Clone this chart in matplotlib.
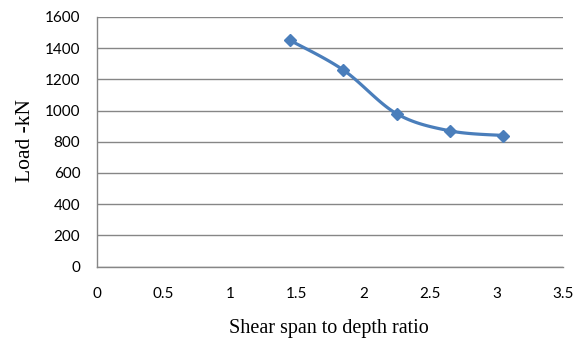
import numpy as np
import matplotlib
matplotlib.use("Agg")
import matplotlib.pyplot as plt

ratio = [1.45, 1.85, 2.25, 2.65, 3.05]
load = [1450, 1260, 980, 870, 840]
x_ticks = [0, 0.5, 1, 1.5, 2, 2.5, 3, 3.5]
x_tick_labels = ["0", "0.5", "1", "1.5", "2", "2.5", "3", "3.5"]
y_ticks = [0, 200, 400, 600, 800, 1000, 1200, 1400, 1600]


def smooth(xs, ys, n=30):
    xs = np.asarray(xs, float)
    ys = np.asarray(ys, float)
    px = np.concatenate([[xs[0]], xs, [xs[-1]]])
    py = np.concatenate([[ys[0]], ys, [ys[-1]]])
    outx, outy = [], []
    t = np.linspace(0, 1, n)
    for i in range(1, len(px) - 2):
        p0 = np.array([px[i], py[i]])
        p3 = np.array([px[i + 1], py[i + 1]])
        c1 = p0 + (np.array([px[i + 1], py[i + 1]]) - np.array([px[i - 1], py[i - 1]])) / 6
        c2 = p3 - (np.array([px[i + 2], py[i + 2]]) - np.array([px[i], py[i]])) / 6
        b = ((1 - t) ** 3)[:, None] * p0 + (3 * (1 - t) ** 2 * t)[:, None] * c1 \
            + (3 * (1 - t) * t ** 2)[:, None] * c2 + (t ** 3)[:, None] * p3
        outx.extend(b[:, 0])
        outy.extend(b[:, 1])
    return outx, outy


fig = plt.figure(figsize=(5.82, 3.57), dpi=100)
ax = fig.add_axes([97 / 582, 1 - 266.5 / 357, (563 - 97) / 582, (266.5 - 17) / 357])

color = "#4A7EBB"
sx, sy = smooth(ratio, load)
ax.plot(sx, sy, color=color, lw=2.3, solid_capstyle="round", zorder=3)
ax.plot(ratio, load, linestyle="none", marker="D", markersize=6.5, color=color, zorder=4)

ax.set_xlim(0, 3.5)
ax.set_ylim(0, 1600)
ax.set_xticks(x_ticks)
ax.set_xticklabels(x_tick_labels)
ax.set_yticks(y_ticks)
ax.yaxis.grid(True, color="#868686", lw=1)
ax.set_axisbelow(True)
for s in ["top", "right"]:
    ax.spines[s].set_visible(False)
for s in ["left", "bottom"]:
    ax.spines[s].set_color("#868686")
    ax.spines[s].set_linewidth(1)
ax.tick_params(axis="both", length=0, labelsize=11)
ax.tick_params(axis="y", pad=12)
ax.tick_params(axis="x", pad=15)
for lab in ax.get_xticklabels() + ax.get_yticklabels():
    lab.set_fontfamily("Lato")

fig.text(329 / 582, 1 - 329 / 357, "Shear span to depth ratio", fontfamily="Liberation Serif",
         fontsize=14.5, ha="center", va="center")
fig.text(25 / 582, 1 - 141 / 357, "Load -kN", fontfamily="Liberation Serif",
         fontsize=15.5, ha="center", va="center", rotation=90)

fig.savefig("out.png", dpi=100)
